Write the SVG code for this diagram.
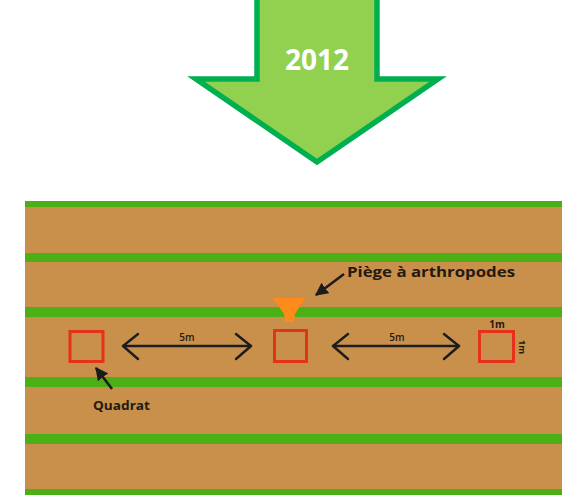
<svg xmlns="http://www.w3.org/2000/svg" width="562" height="495" viewBox="0 0 562 495">
  <defs>
    <style>
      .stripe { fill: #4bb016; }
      .quadrat { fill: none; stroke: #e6311c; stroke-width: 3; }
      .dim { fill: none; stroke: #1c1c1c; stroke-width: 2.4; stroke-linecap: round; stroke-linejoin: round; }
      .pointer { fill: none; stroke: #1c1c1c; stroke-width: 2.6; }
      .lbl { font-family: "Open Sans", "Liberation Sans", sans-serif; fill: #231a12; }
      .bold { font-weight: bold; }
    </style>
    <marker id="head" viewBox="0 0 10 10" refX="9" refY="5" markerWidth="5" markerHeight="5" orient="auto" markerUnits="strokeWidth">
      <path d="M0,0 L10,5 L0,10 Z" fill="#1c1c1c"/>
    </marker>
  </defs>

  <!-- year banner arrow -->
  <g id="year-arrow">
    <path d="M257,-6 L257,79 L196,79 L317,162 L438,79 L377,79 L377,-6 Z" fill="#92d050" stroke="#00b050" stroke-width="5.5" stroke-linejoin="miter"/>
    <text x="317" y="70" text-anchor="middle" font-family="'Open Sans', 'Liberation Sans', sans-serif" font-weight="bold" font-size="28" fill="#ffffff">2012</text>
  </g>

  <!-- field with crop rows -->
  <g id="field">
    <rect x="25" y="201" width="537" height="294" fill="#c8904a"/>
    <rect class="stripe" x="25" y="201" width="537" height="6"/>
    <rect class="stripe" x="25" y="253" width="537" height="9"/>
    <rect class="stripe" x="25" y="307" width="537" height="10"/>
    <rect class="stripe" x="25" y="377" width="537" height="10"/>
    <rect class="stripe" x="25" y="434" width="537" height="10"/>
    <rect class="stripe" x="25" y="489" width="537" height="6"/>
  </g>

  <!-- arthropod trap -->
  <g id="trap">
    <polygon points="273,298 305,298 295,314 294,322 285,322 284,314" fill="#ff8a1c"/>
  </g>

  <!-- sampling quadrats -->
  <g id="quadrat-1">
    <rect class="quadrat" x="70" y="331.5" width="33" height="30"/>
  </g>
  <g id="quadrat-2">
    <rect class="quadrat" x="274.5" y="330.5" width="32" height="31"/>
  </g>
  <g id="quadrat-3">
    <rect class="quadrat" x="479.5" y="331.5" width="34" height="30"/>
    <text class="lbl bold" x="497" y="328" text-anchor="middle" font-size="10">1m</text>
    <text class="lbl bold" x="0" y="0" text-anchor="middle" font-size="9" transform="translate(519,347) rotate(90)">1m</text>
  </g>

  <!-- labels -->
  <g id="label-trap">
    <text class="lbl bold" x="347" y="277" font-size="15" textLength="168" lengthAdjust="spacingAndGlyphs">Piège à arthropodes</text>
  </g>
  <g id="label-quadrat">
    <text class="lbl bold" x="93" y="410" font-size="13" textLength="57" lengthAdjust="spacingAndGlyphs">Quadrat</text>
  </g>

  <!-- connectors: distance arrows and label pointers -->
  <g id="connectors">
    <g id="dist-1">
      <line class="dim" x1="123" y1="346" x2="251" y2="346"/>
      <polyline class="dim" points="138,334 123,346 138,359"/>
      <polyline class="dim" points="236,334 251,346 236,359"/>
      <text class="lbl" x="187" y="341" text-anchor="middle" font-size="10" font-weight="600">5m</text>
    </g>
    <g id="dist-2">
      <line class="dim" x1="333" y1="346" x2="459" y2="346"/>
      <polyline class="dim" points="348,334 333,346 348,359"/>
      <polyline class="dim" points="444,334 459,346 444,359"/>
      <text class="lbl" x="397" y="341" text-anchor="middle" font-size="10" font-weight="600">5m</text>
    </g>
    <line class="pointer" x1="344" y1="274" x2="316" y2="295" marker-end="url(#head)"/>
    <line class="pointer" x1="112" y1="389" x2="96" y2="368" marker-end="url(#head)"/>
  </g>
</svg>
